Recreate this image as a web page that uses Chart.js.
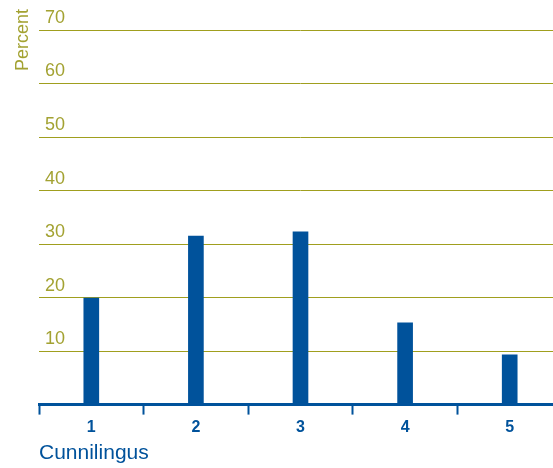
<!DOCTYPE html>
<html>
<head>
<meta charset="utf-8">
<script src="https://cdn.jsdelivr.net/npm/chart.js@4"></script>
<style>
  html, body { margin: 0; padding: 0; background: #fff; overflow: hidden; }
  #chart { display: block; }
</style>
</head>
<body>
<canvas id="chart" width="562" height="468"></canvas>
<script>
const categories = ["1", "2", "3", "4", "5"];
const percents = [19.9, 31.5, 32.3, 15.3, 9.3];
const yTicks = [0, 10, 20, 30, 40, 50, 60, 70];
const yTitle = "Percent";
const xTitle = "Cunnilingus";

const OLIVE = "#a09f1e";
const OLIVE_TEXT = "#a3a232";
const BLUE = "#00529b";
const FONT = "'Liberation Sans Narrow', 'Liberation Sans', Arial, sans-serif";

// rotated "Percent" in the top-left corner
const yTitlePlugin = {
    id: "yTitle",
    afterDraw(chart) {
        let ctx = chart.ctx;
        ctx.save();
        ctx.translate(23, 40);
        ctx.rotate(-Math.PI / 2);
        ctx.font = "18px " + FONT;
        ctx.fillStyle = OLIVE_TEXT;
        ctx.textAlign = "center";
        ctx.textBaseline = "middle";
        ctx.fillText(yTitle, 0, 0);
        ctx.restore();
    }
};

new Chart(document.getElementById("chart"), {
    type: "bar",
    data: {
        labels: categories,
        datasets: [{
            data: percents,
            backgroundColor: BLUE,
            barThickness: 15,
            borderWidth: 0
        }]
    },
    options: {
        responsive: false,
        animation: false,
        devicePixelRatio: 1,
        layout: { padding: { left: 39, top: 30, right: 0, bottom: 2 } },
        plugins: { legend: { display: false }, tooltip: { enabled: false } },
        scales: {
            y: {
                min: 0,
                max: 70,
                afterFit: s => { s.width = 0; },
                afterBuildTicks: s => { s.ticks = yTicks.map(v => ({ value: v })); },
                border: { display: false },
                grid: {
                    drawTicks: false,
                    color: c => c.tick.value === 0 ? "rgba(0,0,0,0)" : OLIVE,
                    lineWidth: 1
                },
                ticks: {
                    mirror: true,
                    padding: 6,
                    labelOffset: -12,
                    color: OLIVE_TEXT,
                    font: { family: FONT, size: 18 },
                    callback: v => v === 0 ? "" : v
                }
            },
            x: {
                border: { display: true, color: BLUE, width: 3 },
                grid: {
                    offset: true,
                    drawOnChartArea: false,
                    drawTicks: true,
                    tickLength: 10,
                    tickWidth: 2,
                    tickColor: BLUE
                },
                ticks: {
                    color: BLUE,
                    padding: 3,
                    font: { family: FONT, size: 16, weight: "bold" }
                },
                title: {
                    display: true,
                    text: xTitle,
                    align: "start",
                    color: BLUE,
                    padding: { top: 1, bottom: 0 },
                    font: { family: FONT, size: 21 }
                }
            }
        }
    },
    plugins: [yTitlePlugin]
});
</script>
</body>
</html>
